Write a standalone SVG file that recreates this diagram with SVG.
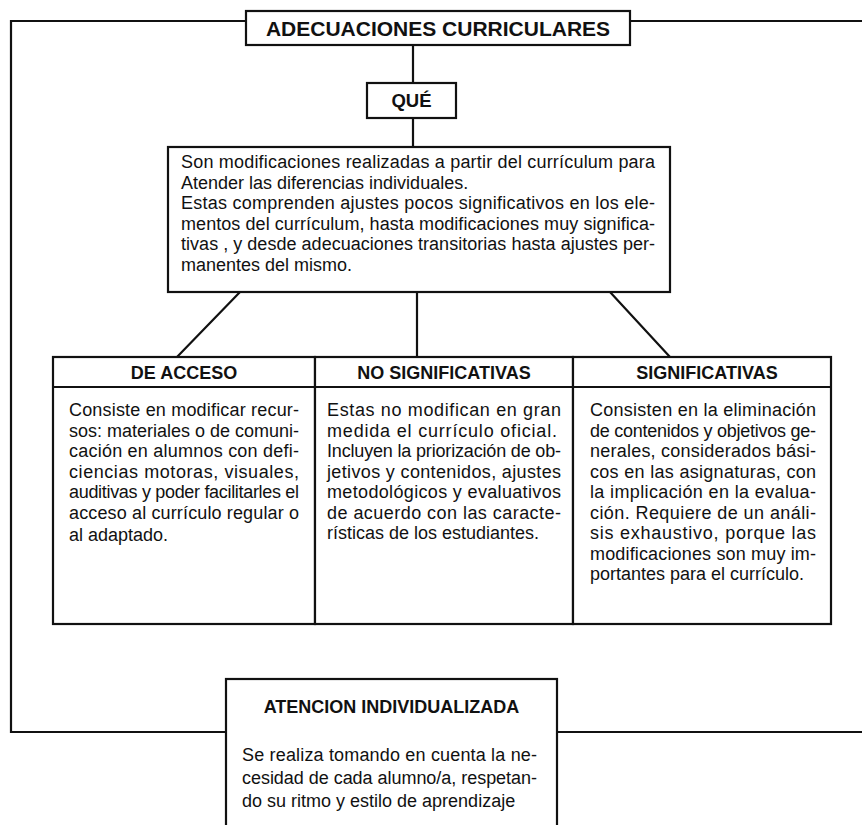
<svg xmlns="http://www.w3.org/2000/svg" width="862" height="825" viewBox="0 0 862 825">
<style>
.box{fill:#fff;stroke:#111;stroke-width:2.2}
.ln{fill:none;stroke:#111;stroke-width:2.2}
.h{font-family:"Liberation Sans",Arial,sans-serif;font-weight:bold;fill:#111;text-anchor:middle}
.t{font-family:"Liberation Sans",Arial,sans-serif;font-size:18px;fill:#111}
</style>
<rect width="862" height="825" fill="#fff"/>
<g id="connectors">
<path class="ln" d="M246,21 H11 V732 H226 M630,21 H862 M557,732 H862"/>
<path class="ln" d="M413,45 V83 M413,118 V147"/>
<path class="ln" d="M240,292 L177,357 M417,292 V357 M610,292 L670,357"/>
</g>
<g id="title">
<rect class="box" x="246" y="11" width="384" height="34"/>
<text class="h" x="438" y="36" font-size="21">ADECUACIONES CURRICULARES</text>
</g>
<g id="que">
<rect class="box" x="367" y="83" width="89" height="35"/>
<text class="h" x="411.5" y="107" font-size="18.5">QUÉ</text>
</g>
<g id="definicion">
<rect class="box" x="168" y="147" width="502" height="145"/>
<text class="t" x="181" y="168" textLength="474">Son modificaciones realizadas a partir del currículum para</text>
<text class="t" x="181" y="188.5">Atender las diferencias individuales.</text>
<text class="t" x="181" y="209" textLength="474">Estas comprenden ajustes pocos significativos en los ele-</text>
<text class="t" x="181" y="229.5" textLength="474">mentos del currículum, hasta modificaciones muy significa-</text>
<text class="t" x="181" y="250" textLength="474">tivas , y desde adecuaciones transitorias hasta ajustes per-</text>
<text class="t" x="181" y="270.5">manentes del mismo.</text>
</g>
<g id="de-acceso">
<rect class="box" x="53" y="357" width="262" height="267"/>
<line class="ln" x1="53" y1="387" x2="315" y2="387"/>
<text class="h" x="184" y="378.5" font-size="18">DE ACCESO</text>
<text class="t" x="69" y="416" textLength="230">Consiste en modificar recur-</text>
<text class="t" x="69" y="436.5" textLength="230">sos: materiales o de comuni-</text>
<text class="t" x="69" y="457" textLength="230">cación en alumnos con defi-</text>
<text class="t" x="69" y="477.5" textLength="230">ciencias motoras, visuales,</text>
<text class="t" x="69" y="498" textLength="230">auditivas y poder facilitarles el</text>
<text class="t" x="69" y="518.5" textLength="230">acceso al currículo regular o</text>
<text class="t" x="69" y="541">al adaptado.</text>
</g>
<g id="no-significativas">
<rect class="box" x="315" y="357" width="258" height="267"/>
<line class="ln" x1="315" y1="387" x2="573" y2="387"/>
<text class="h" x="444" y="378.5" font-size="18">NO SIGNIFICATIVAS</text>
<text class="t" x="327" y="416" textLength="234">Estas no modifican en gran</text>
<text class="t" x="327" y="436.5" textLength="230">medida el currículo oficial.</text>
<text class="t" x="327" y="457" textLength="234">Incluyen la priorización de ob-</text>
<text class="t" x="327" y="477.5" textLength="234">jetivos y contenidos, ajustes</text>
<text class="t" x="327" y="498" textLength="234">metodológicos y evaluativos</text>
<text class="t" x="327" y="518.5" textLength="234">de acuerdo con las caracte-</text>
<text class="t" x="327" y="539">rísticas de los estudiantes.</text>
</g>
<g id="significativas">
<rect class="box" x="573" y="357" width="258" height="267"/>
<line class="ln" x1="573" y1="387" x2="831" y2="387"/>
<text class="h" x="707" y="378.5" font-size="18">SIGNIFICATIVAS</text>
<text class="t" x="590" y="416" textLength="226">Consisten en la eliminación</text>
<text class="t" x="590" y="436.5" textLength="226">de contenidos y objetivos ge-</text>
<text class="t" x="590" y="457" textLength="226">nerales, considerados bási-</text>
<text class="t" x="590" y="477.5" textLength="226">cos en las asignaturas, con</text>
<text class="t" x="590" y="498" textLength="226">la implicación en la evalua-</text>
<text class="t" x="590" y="518.5" textLength="226">ción. Requiere de un análi-</text>
<text class="t" x="590" y="539" textLength="226">sis exhaustivo, porque las</text>
<text class="t" x="590" y="559.5" textLength="226">modificaciones son muy im-</text>
<text class="t" x="590" y="580">portantes para el currículo.</text>
</g>
<g id="atencion">
<rect class="box" x="226" y="679" width="331" height="160"/>
<text class="h" x="391.5" y="713" font-size="18">ATENCION INDIVIDUALIZADA</text>
<text class="t" x="242" y="761" font-size="18.4" textLength="295">Se realiza tomando en cuenta la ne-</text>
<text class="t" x="242" y="784" font-size="18.4" textLength="295">cesidad de cada alumno/a, respetan-</text>
<text class="t" x="242" y="807" font-size="18.4">do su ritmo y estilo de aprendizaje</text>
</g>
</svg>
